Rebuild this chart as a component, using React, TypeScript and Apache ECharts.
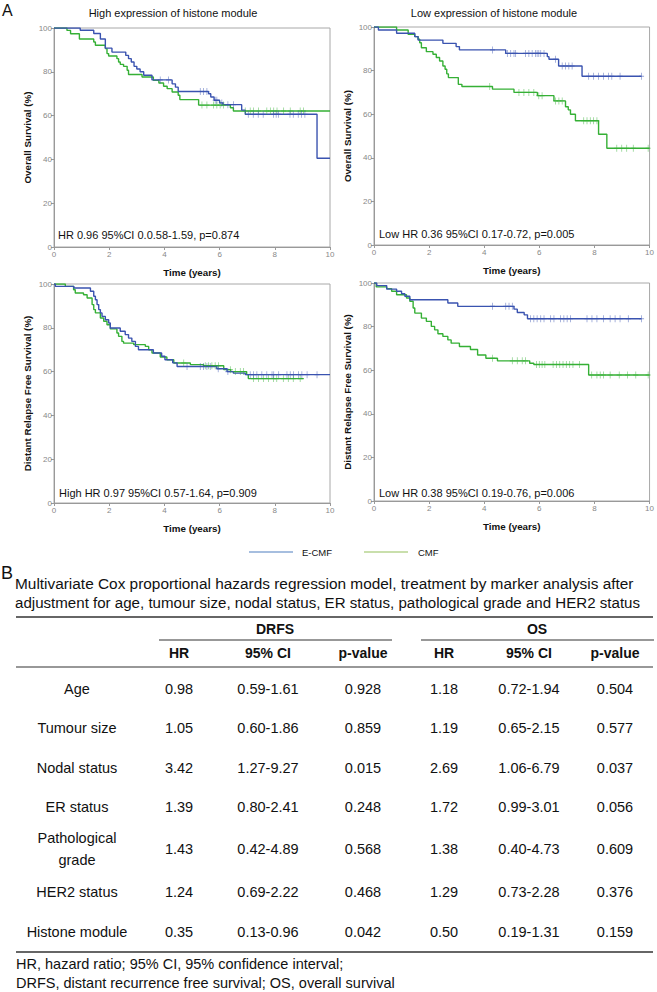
import React, { useEffect, useRef } from 'react';
import * as echarts from 'echarts';

// ---------- DATA ----------
const timeTicks = [0, 2, 4, 6, 8, 10];
const survTicks = [0, 20, 40, 60, 80, 100];
const groupNames = ['E-CMF', 'CMF'];

// Panel 1: High expression, overall survival
const hiOsECMF: number[][] = [[0,100],[0.95,99],[1.44,97.5],[1.68,95],[1.86,90.8],[2.1,89],[2.6,87.5],[2.7,86],[2.8,84.5],[2.9,82.5],[3.0,81.3],[3.12,80],[3.25,78.4],[3.55,76.3],[4.28,74.5],[4.4,73],[4.5,71],[5.6,70],[5.68,68.5],[5.8,67],[6.0,65.8],[6.12,65],[6.8,62.5],[6.93,60.6],[9.53,40.5],[10,40.5]];
const hiOsECMFCens = [3.85,4.15,5.3,5.42,5.54,5.84,5.9,6.08,6.3,6.5,7.04,7.22,7.4,7.58,7.95,8.05,8.13,8.55,8.67,8.85,8.97,9.09];
const hiOsCMF: number[][] = [[0,100],[0.47,98.9],[0.6,97.4],[0.92,95],[1.44,93.6],[1.5,92.1],[1.86,90.6],[1.92,88.3],[1.98,87.2],[2.28,86],[2.34,84.5],[2.4,83.4],[2.52,82.5],[2.65,80.7],[2.7,78.8],[3.19,77.6],[3.6,76.1],[3.8,74.9],[3.97,73.4],[4.1,72.3],[4.28,70.8],[4.5,69.3],[4.56,67.3],[5.24,64.8],[6.39,63.6],[6.5,62.1],[10,62.1]];
const hiOsCMFCens = [5.36,5.54,5.78,5.9,6.02,6.14,6.93,7.11,7.23,7.41,7.71,7.84,7.96,8.08,8.32,8.56,8.92,9.04];

// Panel 2: Low expression, overall survival
const loOsECMF: number[][] = [[0,100],[0.16,98.6],[0.82,97.1],[1.48,95.6],[1.6,94],[2.5,92.5],[2.98,91],[3.1,89.5],[4.78,87.9],[6.29,86.4],[6.35,85.2],[6.7,82.1],[7.55,77.4],[9.71,77.4]];
const loOsECMFCens = [4.3,4.84,4.96,5.08,5.14,5.5,5.62,5.74,5.86,5.92,5.98,6.05,6.17,6.59,6.83,6.95,7.07,7.19,7.79,7.97,8.15,8.33,8.51,8.63,8.93,9.71];
const loOsCMF: number[][] = [[0,100],[0.82,98.6],[1.24,96.6],[1.48,95.6],[1.6,94.4],[1.66,92.8],[1.72,90.5],[1.9,88.7],[2.14,87.5],[2.26,86],[2.38,84.4],[2.5,82.1],[2.58,80.6],[2.64,78.5],[2.7,76.8],[3.06,73.7],[3.19,72.7],[4.3,71.5],[5.08,70],[5.93,68.5],[6.53,66.1],[6.95,63.4],[7.05,62],[7.13,60],[7.31,57],[8.15,50.8],[8.45,44.4],[10,44.4]];
const loOsCMFCens = [4.2,5.26,5.44,5.62,5.8,5.98,6.1,6.59,6.71,6.83,7.61,7.73,7.85,7.97,8.09,8.81,8.99,9.17,9.41,9.95];

// Panel 3: High expression, distant relapse free survival
const hiDrfsECMF: number[][] = [[0,100],[0.05,98.9],[0.72,98.2],[1.32,96.7],[1.44,94.4],[1.5,92.8],[1.56,90.6],[1.62,88.3],[1.68,86.8],[1.74,85.2],[1.86,83.7],[1.98,82.2],[2.04,79.9],[2.4,78.4],[2.58,76.9],[2.7,75.3],[2.82,73.8],[2.95,71.5],[3.06,70],[3.6,68.5],[3.9,67],[4.02,65.4],[4.3,64],[4.46,62.3],[5.9,61.3],[6.27,60],[6.5,59.3],[6.93,58.6],[10,58.6]];
const hiDrfsECMFCens = [4.82,5.3,5.42,5.54,5.66,5.95,6.3,7.11,7.23,7.35,7.53,7.71,7.9,7.96,8.14,8.44,8.56,8.68,8.86,8.98,9.17,9.53];
const hiDrfsCMF: number[][] = [[0,100],[0.41,98.9],[0.71,97.4],[0.77,95.9],[1.07,95.1],[1.2,93.6],[1.38,90.6],[1.44,88.3],[1.5,86.8],[1.68,84.5],[1.8,83],[1.92,81.4],[2.04,79.5],[2.28,77.6],[2.34,76.1],[2.46,73.8],[2.52,73],[2.89,72.3],[3.31,71.5],[3.43,70],[3.55,68.5],[3.85,66.7],[4.09,65.4],[4.34,63.9],[4.94,63.2],[5.42,62.7],[6.15,60.9],[6.4,60],[6.98,58.6],[7.04,56.8],[9.05,56.8]];
const hiDrfsCMFCens = [4.7,5.48,5.6,5.72,5.84,5.96,6.39,6.57,6.75,6.87,7.23,7.41,7.59,7.77,7.95,8.07,8.31,8.49,8.67,8.92];

// Panel 4: Low expression, distant relapse free survival
const loDrfsECMF: number[][] = [[0,100],[0.1,98.8],[0.46,97.2],[0.82,96.2],[1.0,95.1],[1.12,93.9],[1.3,92.3],[2.68,90.8],[3.04,89.3],[5.08,88],[5.2,86.5],[5.45,85.4],[5.57,83.6],[9.71,83.6]];
const loDrfsECMFCens = [4.3,4.78,4.9,5.02,5.68,5.8,5.92,6.05,6.17,6.41,6.53,6.77,6.89,7.01,7.13,7.73,7.91,8.09,8.33,8.57,8.75,8.93,9.23,9.71];
const loDrfsCMF: number[][] = [[0,100],[0.08,98.2],[0.46,97.4],[0.64,96.2],[0.82,94.6],[1.18,93.1],[1.3,91.6],[1.42,88.5],[1.48,86.2],[1.72,83.9],[1.9,82.4],[2.08,80.1],[2.2,78.5],[2.32,76.7],[2.5,75.5],[2.68,73.9],[2.8,72.4],[3.1,70.9],[3.5,69.5],[3.76,67],[4.06,65.5],[4.48,64.3],[5.65,63.2],[5.8,62.6],[7.79,57.8],[10,57.8]];
const loDrfsCMFCens = [4.3,5.02,5.2,5.38,5.5,5.9,6.0,6.1,6.2,6.5,6.62,6.74,6.86,6.98,7.1,7.22,7.46,7.9,8.09,8.21,8.33,8.57,8.9,9.2,9.5,9.95];

const panelTitles = ['High expression of histone module', 'Low expression of histone module'];
const yAxisNames = ['Overall Survival (%)', 'Overall Survival (%)', 'Distant Relapse Free Survival (%)', 'Distant Relapse Free Survival (%)'];
const xAxisName = 'Time (years)';
const annotations = [
  'HR 0.96 95%CI 0.0.58-1.59, p=0.874',
  'Low HR 0.36 95%CI 0.17-0.72, p=0.005',
  'High HR 0.97 95%CI 0.57-1.64, p=0.909',
  'Low HR 0.38 95%CI 0.19-0.76, p=0.006',
];

// Table B
const captionLines = [
  'Multivariate Cox proportional hazards regression model, treatment by marker analysis after',
  'adjustment for age, tumour size, nodal status, ER status, pathological grade and HER2 status',
];
const groupHeaders = ['DRFS', 'OS'];
const colHeaders = ['HR', '95% CI', 'p-value', 'HR', '95% CI', 'p-value'];
const rowLabels = ['Age', 'Tumour size', 'Nodal status', 'ER status', 'Pathological\ngrade', 'HER2 status', 'Histone module'];
const drfsHR = ['0.98', '1.05', '3.42', '1.39', '1.43', '1.24', '0.35'];
const drfsCI = ['0.59-1.61', '0.60-1.86', '1.27-9.27', '0.80-2.41', '0.42-4.89', '0.69-2.22', '0.13-0.96'];
const drfsP = ['0.928', '0.859', '0.015', '0.248', '0.568', '0.468', '0.042'];
const osHR = ['1.18', '1.19', '2.69', '1.72', '1.38', '1.29', '0.50'];
const osCI = ['0.72-1.94', '0.65-2.15', '1.06-6.79', '0.99-3.01', '0.40-4.73', '0.73-2.28', '0.19-1.31'];
const osP = ['0.504', '0.577', '0.037', '0.056', '0.609', '0.376', '0.159'];
const footnotes = [
  'HR, hazard ratio; 95% CI, 95% confidence interval;',
  'DRFS, distant recurrence free survival; OS, overall survival',
];

// ---------- STYLE ----------
const SANS = '"Liberation Sans", Arial, sans-serif';
const BLUE = '#3a53b0';
const GREEN = '#35b035';
const LEG_BLUE = '#4f7fc0';
const LEG_GREEN = '#93c05a';
const PLUS = 'path://M0.42,0 L0.58,0 L0.58,0.42 L1,0.42 L1,0.58 L0.58,0.58 L0.58,1 L0.42,1 L0.42,0.58 L0,0.58 L0,0.42 L0.42,0.42 Z';

function survAt(curve: number[][], t: number): number {
  let v = curve[0][1];
  for (const p of curve) {
    if (p[0] <= t) v = p[1];
  }
  return v;
}

const panels = [
  { e: hiOsECMF, ec: hiOsECMFCens, c: hiOsCMF, cc: hiOsCMFCens },
  { e: loOsECMF, ec: loOsECMFCens, c: loOsCMF, cc: loOsCMFCens },
  { e: hiDrfsECMF, ec: hiDrfsECMFCens, c: hiDrfsCMF, cc: hiDrfsCMFCens },
  { e: loDrfsECMF, ec: loDrfsECMFCens, c: loDrfsCMF, cc: loDrfsCMFCens },
];

const gridBoxes = [
  { left: 54, top: 28, width: 276, height: 219 },
  { left: 374, top: 27, width: 278, height: 218 },
  { left: 54, top: 284, width: 276, height: 219 },
  { left: 374, top: 283, width: 278, height: 218 },
];

function buildOption(): any {
  const grid = gridBoxes.map((g) => ({
    ...g,
    show: true,
    borderColor: '#a8a8a8',
    borderWidth: 1,
    backgroundColor: 'transparent',
    containLabel: false,
  }));
  const xAxis = gridBoxes.map((_, i) => ({
    type: 'value',
    gridIndex: i,
    min: timeTicks[0],
    max: timeTicks[timeTicks.length - 1],
    interval: timeTicks[1] - timeTicks[0],
    name: xAxisName,
    nameLocation: 'middle',
    nameGap: 20,
    nameTextStyle: { fontFamily: SANS, fontWeight: 'bold', fontSize: 9.8, color: '#111' },
    axisLine: { show: true, lineStyle: { color: '#999', width: 1 } },
    axisTick: { show: true, length: 3, lineStyle: { color: '#999' } },
    axisLabel: { fontFamily: SANS, fontSize: 8, color: '#888', margin: 3 },
    splitLine: { show: false },
  }));
  const yAxis = gridBoxes.map((_, i) => ({
    type: 'value',
    gridIndex: i,
    min: survTicks[0],
    max: survTicks[survTicks.length - 1],
    interval: survTicks[1] - survTicks[0],
    name: yAxisNames[i],
    nameLocation: 'middle',
    nameRotate: 90,
    nameGap: 22,
    nameTextStyle: { fontFamily: SANS, fontWeight: 'bold', fontSize: 9.8, color: '#111' },
    axisLine: { show: true, lineStyle: { color: '#999', width: 1 } },
    axisTick: { show: true, length: 3, lineStyle: { color: '#999' } },
    axisLabel: { fontFamily: SANS, fontSize: 8, color: '#888', margin: 2 },
    splitLine: { show: false },
  }));
  const series: any[] = [];
  panels.forEach((p, i) => {
    const lines = [
      { name: groupNames[1], curve: p.c, cens: p.cc, color: GREEN },
      { name: groupNames[0], curve: p.e, cens: p.ec, color: BLUE },
    ];
    lines.forEach((l) => {
      series.push({
        type: 'line',
        name: l.name,
        xAxisIndex: i,
        yAxisIndex: i,
        data: l.curve,
        step: 'end',
        symbol: 'none',
        showSymbol: false,
        lineStyle: { color: l.color, width: 1.4 },
        itemStyle: { color: l.color },
        z: 3,
      });
      series.push({
        type: 'scatter',
        name: l.name + ' censored',
        xAxisIndex: i,
        yAxisIndex: i,
        data: l.cens.map((t) => [t, survAt(l.curve, t)]),
        symbol: PLUS,
        symbolSize: [5, 7],
        itemStyle: { color: l.color, opacity: 0.55 },
        z: 4,
      });
    });
  });

  const graphic: any[] = [];
  const txt = (text: string, x: number, y: number, size: number, opts: any = {}) => ({
    type: 'text',
    x,
    y,
    silent: true,
    style: {
      text,
      fontFamily: SANS,
      fontSize: size,
      fill: '#111',
      align: 'left',
      verticalAlign: 'middle',
      ...opts,
    },
  });
  const hline = (x1: number, x2: number, y: number, w: number) => ({
    type: 'line',
    silent: true,
    shape: { x1, y1: y, x2, y2: y },
    style: { stroke: '#333', lineWidth: w },
  });

  graphic.push(txt('A', 2, 10, 16));
  graphic.push(txt(panelTitles[0], 173, 13, 11, { align: 'center' }));
  graphic.push(txt(panelTitles[1], 494, 13, 11, { align: 'center' }));
  const annPos = [[58, 235], [379, 234], [59, 493], [379, 493]];
  annotations.forEach((a, i) => graphic.push(txt(a, annPos[i][0], annPos[i][1], 11)));

  // legend
  graphic.push({ type: 'line', silent: true, shape: { x1: 249, y1: 552, x2: 293, y2: 552 }, style: { stroke: LEG_BLUE, lineWidth: 1.2 } });
  graphic.push(txt(groupNames[0], 302, 552, 9.5));
  graphic.push({ type: 'line', silent: true, shape: { x1: 364, y1: 552, x2: 408, y2: 552 }, style: { stroke: LEG_GREEN, lineWidth: 1.2 } });
  graphic.push(txt(groupNames[1], 418, 552, 9.5));

  // Part B
  graphic.push(txt('B', 1, 573, 18));
  graphic.push(txt(captionLines[0], 15, 583, 15.4));
  graphic.push(txt(captionLines[1], 15, 602, 15.1));
  graphic.push(hline(16, 653, 617, 1.6));
  graphic.push(txt(groupHeaders[0], 275, 629, 14, { align: 'center', fontWeight: 'bold' }));
  graphic.push(txt(groupHeaders[1], 537, 629, 14, { align: 'center', fontWeight: 'bold' }));
  graphic.push(hline(159, 392, 640, 1.2));
  graphic.push(hline(421, 654, 640, 1.2));
  const colX = [179, 268, 363, 444, 529, 615];
  colHeaders.forEach((h, j) => graphic.push(txt(h, colX[j], 653, 14, { align: 'center', fontWeight: 'bold' })));
  graphic.push(hline(16, 653, 667, 1.2));
  const rowY = [689, 728, 768, 807, 849, 892, 932];
  const cols = [drfsHR, drfsCI, drfsP, osHR, osCI, osP];
  rowLabels.forEach((lab, r) => {
    graphic.push(txt(lab, 77, rowY[r], 14.5, { align: 'center', lineHeight: 22 }));
    cols.forEach((col, j) => graphic.push(txt(col[r], colX[j], rowY[r], 14.5, { align: 'center' })));
  });
  graphic.push(hline(16, 653, 952, 1.6));
  graphic.push(txt(footnotes[0], 16, 964, 14.5));
  graphic.push(txt(footnotes[1], 16, 983, 14.5));

  return {
    animation: false,
    backgroundColor: '#ffffff',
    grid,
    xAxis,
    yAxis,
    series,
    graphic,
  };
}

export default function App() {
  const ref = useRef<HTMLDivElement>(null);
  useEffect(() => {
    if (!ref.current) return;
    const chart = echarts.init(ref.current, undefined, { renderer: 'svg' });
    chart.setOption(buildOption());
    return () => chart.dispose();
  }, []);
  return (
    <div
      ref={ref}
      style={{ position: 'absolute', left: 0, top: 0, width: 657, height: 992, background: '#fff' }}
    />
  );
}
